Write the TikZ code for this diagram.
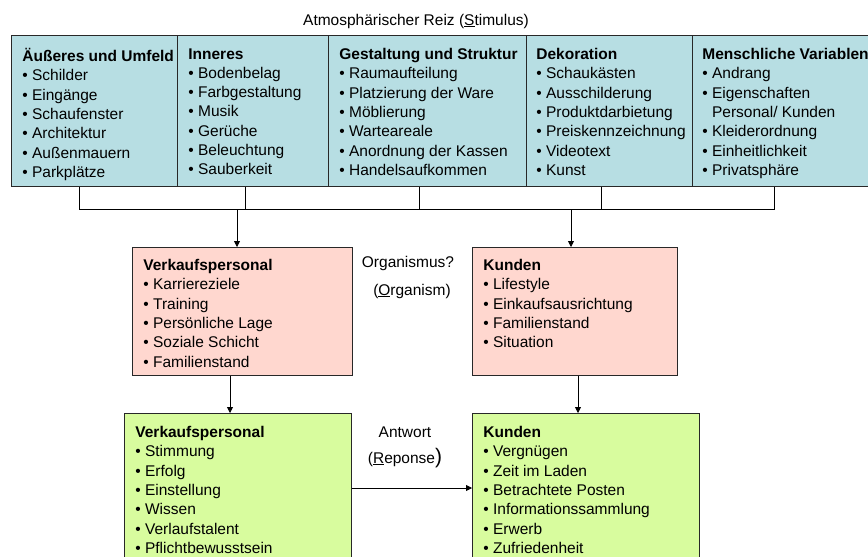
\documentclass[tikz,border=0pt]{standalone}
\usepackage{fontspec}
\setmainfont{Liberation Sans}
\usetikzlibrary{arrows.meta}
\definecolor{reizblau}{RGB}{183,222,227}
\definecolor{orgrosa}{RGB}{255,215,207}
\definecolor{antgruen}{RGB}{216,252,158}
\definecolor{rand}{RGB}{40,40,40}
\tikzset{every picture/.style={line width=0.75pt}}

\begin{document}
\begin{tikzpicture}[x=1pt,y=1pt,yscale=-1,xscale=1,
  kasten/.style={draw=rand, line width=1pt, inner sep=0pt, anchor=north west},
  liste/.style={anchor=north west, inner sep=0pt, align=left, font=\fontsize{15.5}{19.3}\selectfont, execute at begin node=\rule{0pt}{16pt}},
  beschr/.style={anchor=base, inner sep=0pt, font=\fontsize{15.5}{19.3}\selectfont},
  pfeil/.style={-{Triangle[length=6pt,width=6pt]}}]
\useasboundingbox (0,0) rectangle (868,557);

% Reiz (Stimulus)
\node (stim) [beschr] at (416,25) {Atmosphärischer Reiz (\underline{S}timulus)};

%Shape: top boxes
\node (t1) [kasten, fill=reizblau, minimum width=166, minimum height=151] at (11,35) {};
\node (t2) [kasten, fill=reizblau, minimum width=151, minimum height=151] at (177,35) {};
\node (t3) [kasten, fill=reizblau, minimum width=198, minimum height=151] at (328,35) {};
\node (t4) [kasten, fill=reizblau, minimum width=166, minimum height=151] at (526,35) {};
\node (t5) [kasten, fill=reizblau, minimum width=200, minimum height=151] at (692,35) {};

% Text Nodes
\node (t1l) [liste] at (22,48) {\textbf{Äußeres und Umfeld}\\• Schilder\\• Eingänge\\• Schaufenster\\• Architektur\\• Außenmauern\\• Parkplätze};
\node (t2l) [liste] at (188,48) {\textbf{Inneres}\\• Bodenbelag\\• Farbgestaltung\\• Musik\\• Gerüche\\• Beleuchtung\\• Sauberkeit};
\node (t3l) [liste] at (339,48) {\textbf{Gestaltung und Struktur}\\• Raumaufteilung\\• Platzierung der Ware\\• Möblierung\\• Warteareale\\• Anordnung der Kassen\\• Handelsaufkommen};
\node (t4l) [liste] at (536,48) {\textbf{Dekoration}\\• Schaukästen\\• Ausschilderung\\• Produktdarbietung\\• Preiskennzeichnung\\• Videotext\\• Kunst};
\node (t5l) [liste] at (702,48) {\textbf{Menschliche Variablen}\\• Andrang\\• Eigenschaften\\\phantom{• }Personal/ Kunden\\• Kleiderordnung\\• Einheitlichkeit\\• Privatsphäre};

%Shape: Organismus boxes
\node (p1) [kasten, fill=orgrosa, minimum width=220, minimum height=128] at (132,247) {};
\node (p2) [kasten, fill=orgrosa, minimum width=205, minimum height=128] at (472,247) {};
\node (p1l) [liste] at (143,259) {\textbf{Verkaufspersonal}\\• Karriereziele\\• Training\\• Persönliche Lage\\• Soziale Schicht\\• Familienstand};
\node (p2l) [liste] at (483,259) {\textbf{Kunden}\\• Lifestyle\\• Einkaufsausrichtung\\• Familienstand\\• Situation};
\node (org) [beschr] at (408,267) {Organismus?};
\node (orge) [beschr] at (412,295) {(\underline{O}rganism)};

%Shape: Antwort boxes
\node (g1) [kasten, fill=antgruen, minimum width=227, minimum height=200] at (124,413) {};
\node (g2) [kasten, fill=antgruen, minimum width=227, minimum height=200] at (472,413) {};
\node (g1l) [liste] at (135,426) {\textbf{Verkaufspersonal}\\• Stimmung\\• Erfolg\\• Einstellung\\• Wissen\\• Verlaufstalent\\• Pflichtbewusstsein};
\node (g2l) [liste] at (483,426) {\textbf{Kunden}\\• Vergnügen\\• Zeit im Laden\\• Betrachtete Posten\\• Informationssammlung\\• Erwerb\\• Zufriedenheit};
\node (ant) [beschr] at (405,437) {Antwort};
\node (ante) [beschr] at (405,463) {(\underline{R}eponse{\fontsize{21}{21}\selectfont)}};

%Straight Lines: bracket
\coordinate (j1) at (79,209);
\coordinate (j2) at (245,209);
\coordinate (j3) at (419,209);
\coordinate (j4) at (601,209);
\coordinate (j5) at (774,209);
\draw (t1.south -| j1) -- (j1) -- (j5) -- (t5.south -| j5);
\foreach \j/\t in {j2/t2, j3/t3, j4/t4}
  \draw (\t.south -| \j) -- (\j);

%Straight Lines: arrows
\coordinate (a1) at (237,209);
\coordinate (a2) at (571,209);
\draw [pfeil] (a1) -- (a1 |- p1.north);
\draw [pfeil] (a2) -- (a2 |- p2.north);
\coordinate (d1) at (230,0);
\coordinate (d2) at (578,0);
\draw [pfeil] (p1.south -| d1) -- (g1.north -| d1);
\draw [pfeil] (p2.south -| d2) -- (g2.north -| d2);
\coordinate (h) at (0,488);
\draw [pfeil] (g1.east |- h) -- (g2.west |- h);
\end{tikzpicture}
\end{document}
